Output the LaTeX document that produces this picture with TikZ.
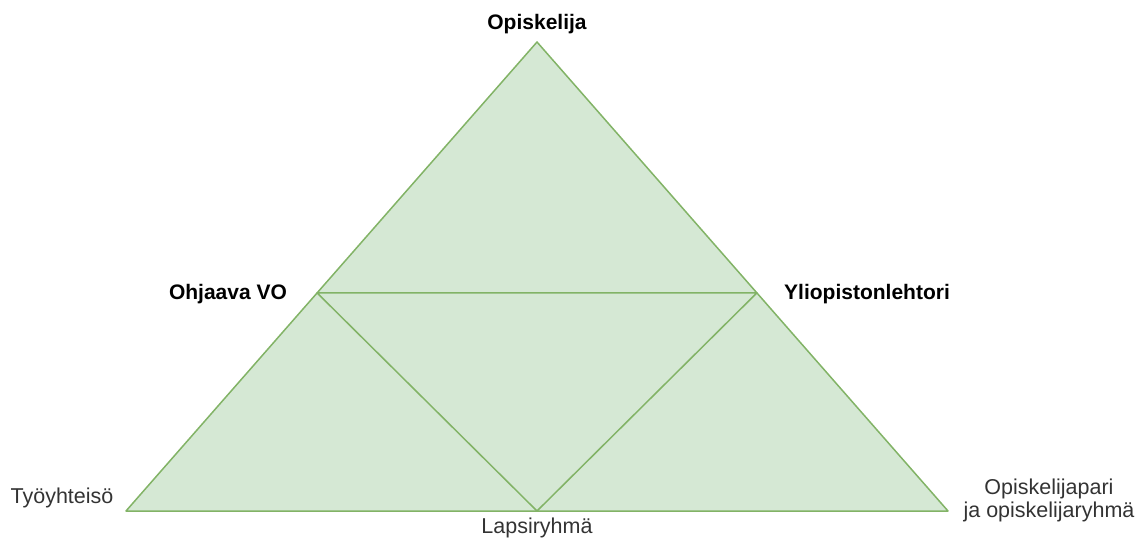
\documentclass[tikz,border=0pt]{standalone}
\usepackage{fontspec}
\setmainfont{Liberation Sans}
\usetikzlibrary{calc}
\usepackage{tkz-euclide}
\definecolor{FillClr}{HTML}{D5E8D4}
\definecolor{LineClr}{HTML}{82B366}
\definecolor{TextClr}{HTML}{333333}
\tikzset{
  corner/.style={font=\bfseries\fontsize{21}{24}\selectfont,text=black},
  side/.style={font=\fontsize{21.5}{23}\selectfont,text=TextClr,align=center}
}

\begin{document}
\begin{tikzpicture}[x=1pt,y=1pt]
\useasboundingbox (0,0) rectangle (1141,542);
\tkzSetUpLine[line width=1.5pt,color=LineClr]

\tkzDefPoints{537/500/A,126/31/B,948/31/C,537/31/L}
\coordinate (M) at ($(A)!0.535!(B)$);
\coordinate (N) at ($(A)!0.535!(C)$);

\tkzFillPolygon[fill=FillClr](A,B,C)
\tkzDrawPolygon[color=LineClr](A,B,C)
\tkzDrawPolygon[color=LineClr](M,N,L)

\node[corner] (opiskelija) at (537,518) {Opiskelija};
\node[corner] (ohjaava) at (228,248) {Ohjaava VO};
\node[corner] (lehtori) at (867,248) {Yliopistonlehtori};

\node[side] (yhteiso) at (62,44) {Työyhteisö};
\node[side,anchor=base] (lapsi) at (537,9) {Lapsiryhmä};
\node[side] (pari) at (1049,42) {Opiskelijapari\\ja opiskelijaryhmä};

\end{tikzpicture}
\end{document}
